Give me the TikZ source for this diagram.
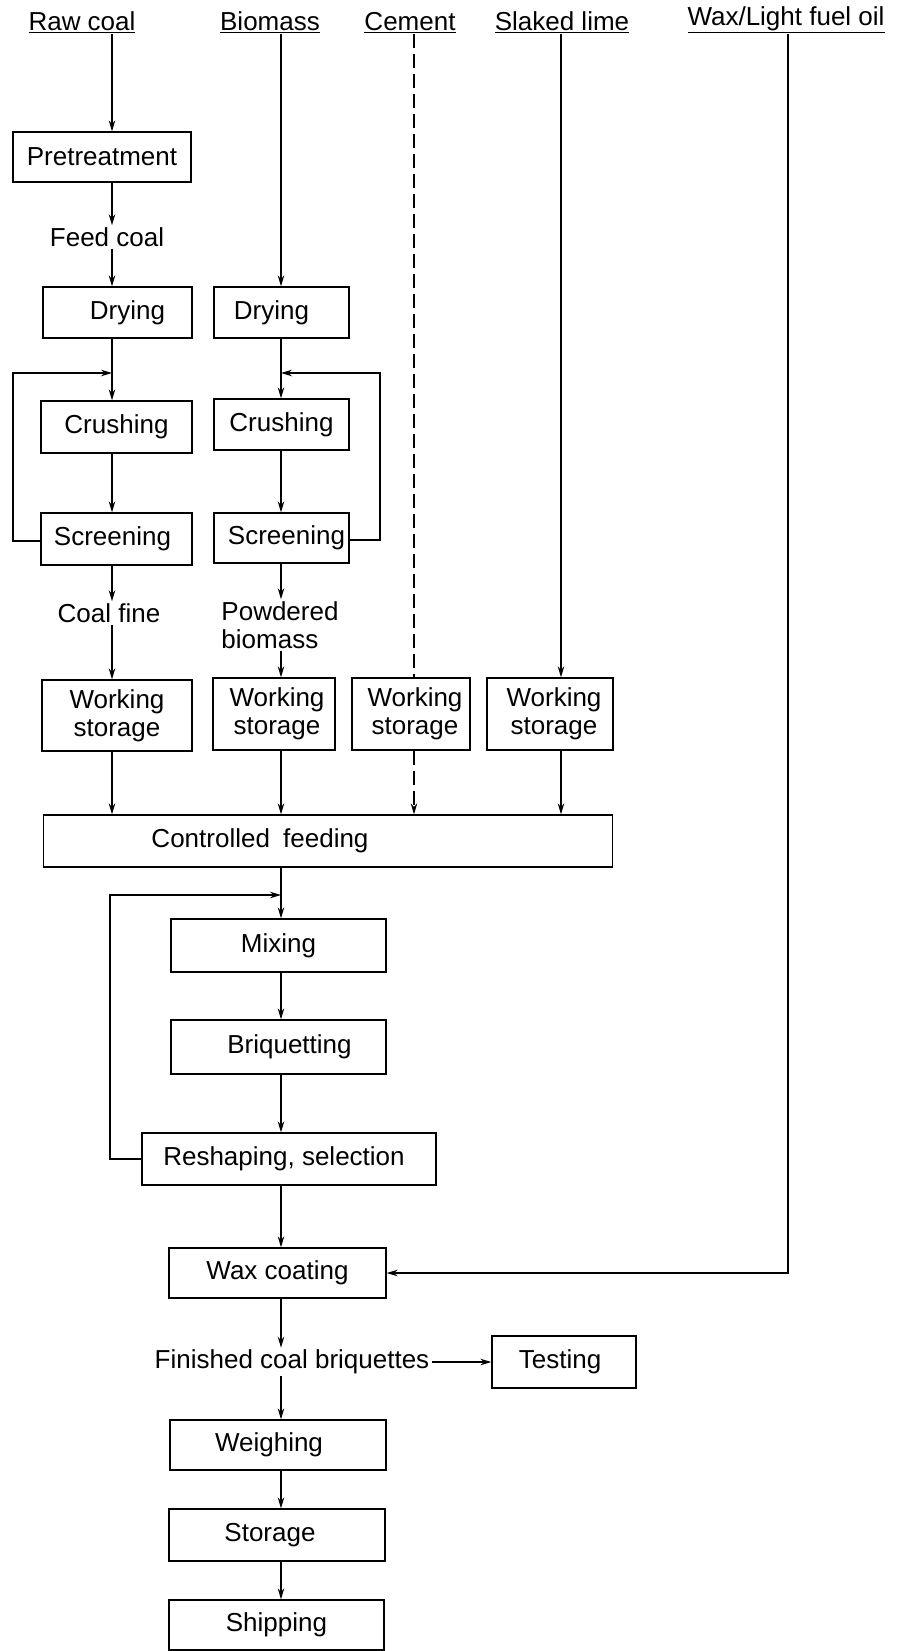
\documentclass[tikz,border=0pt]{standalone}
\usepackage{fontspec}
\setmainfont{Liberation Sans}
\usetikzlibrary{arrows.meta,calc}
\begin{document}
\begin{tikzpicture}[x=1pt,y=-1pt,
  every node/.style={font=\fontsize{26}{28}\selectfont},
  box/.style={draw,line width=1.3pt,inner sep=0pt,align=center},
  lbl/.style={inner sep=2pt,align=center},
  hdr/.style={inner sep=1pt,anchor=south},
  ln/.style={line width=1.2pt},
  arr/.style={ln,-{Stealth[length=11pt,width=6.5pt]}},
  darr/.style={arr,dash pattern=on 14pt off 6pt},
  dln/.style={ln,dash pattern=on 14pt off 6pt}]
\useasboundingbox (0,0) rectangle (904,1651);
% column coordinates
\coordinate (xA) at (112,0);
\coordinate (xB) at (281,0);
\coordinate (xC) at (414,0);
\coordinate (xD) at (561,0);
\coordinate (xE) at (788,0);
\coordinate (lpA) at (13,373);
\coordinate (lpB) at (380,373);
\coordinate (lpC) at (110,895);
\coordinate (oilc) at (788,1273);
% headers
\node[hdr] (raw) at (82,34) {\underline{Raw coal}};
\node[hdr] (bio) at (270,34) {\underline{Biomass}};
\node[hdr] (cem) at (410,34) {\underline{Cement}};
\node[hdr] (lime) at (562,34) {\underline{Slaked lime}};
\node[hdr] (oil) at (786,34) {\underline{Wax/Light fuel oil}};
% boxes
\node[box,minimum width=178pt,minimum height=50pt] (pre) at (102,157) {Pretreatment};
\node[lbl] (feed) at (107,237) {Feed coal};
\node[box,minimum width=149pt,minimum height=51pt] (dry1) at (117.5,312.5) {\hspace*{20pt}Drying};
\node[box,minimum width=135pt,minimum height=51pt] (dry2) at (281.5,312.5) {Drying\hspace*{20pt}};
\node[box,minimum width=151pt,minimum height=52pt] (cr1) at (116.5,427) {Crushing};
\node[box,minimum width=135pt,minimum height=51pt] (cr2) at (281.5,424.5) {Crushing};
\node[box,minimum width=151pt,minimum height=52pt] (sc1) at (116.5,539) {Screening\hspace*{8pt}};
\node[box,minimum width=135pt,minimum height=50pt] (sc2) at (281.5,538) {\hspace*{10pt}Screening};
\node[lbl] (cfine) at (109,613) {Coal fine};
\node[lbl,align=left] (pbio) at (280,625) {Powdered\\biomass};
\node[box,minimum width=150pt,minimum height=71pt] (ws1) at (117,715.5) {Working\\storage};
\node[box,minimum width=122pt,minimum height=72pt] (ws2) at (274,714) {\hspace*{6pt}Working\\\hspace*{6pt}storage};
\node[box,minimum width=118pt,minimum height=72pt] (ws3) at (411,714) {\hspace*{8pt}Working\\\hspace*{8pt}storage};
\node[box,minimum width=126pt,minimum height=72pt] (ws4) at (550,714) {\hspace*{8pt}Working\\\hspace*{8pt}storage};
\node[box,minimum width=569pt,minimum height=52pt] (cf) at (328,841) {Controlled\hspace*{6pt} feeding\hspace*{136pt}};
\node[box,minimum width=215pt,minimum height=53pt] (mix) at (278.5,945.5) {Mixing};
\node[box,minimum width=215pt,minimum height=54pt] (briq) at (278.5,1047) {\hspace*{22pt}Briquetting};
\node[box,minimum width=294pt,minimum height=52pt] (resh) at (289,1159) {Reshaping, selection\hspace*{10pt}};
\node[box,minimum width=217pt,minimum height=50pt] (wax) at (277.5,1273) {Wax coating};
\node[lbl] (fin) at (292,1362) {Finished coal briquettes};
\node[box,minimum width=144pt,minimum height=52pt] (test) at (564,1362) {Testing\hspace*{8pt}};
\node[box,minimum width=216pt,minimum height=50pt] (weigh) at (278,1445) {Weighing\hspace*{18pt}};
\node[box,minimum width=216pt,minimum height=52pt] (stor) at (277,1535) {Storage\hspace*{14pt}};
\node[box,minimum width=215pt,minimum height=50pt] (ship) at (276.5,1625) {Shipping};
% coal column
\draw[arr] (xA |- raw.south) -- (xA |- pre.north);
\draw[arr] (xA |- pre.south) -- (xA |- feed.north);
\draw[arr] (xA |- feed.south) -- (xA |- dry1.north);
\draw[arr] (xA |- dry1.south) -- (xA |- cr1.north);
\draw[arr] (xA |- cr1.south) -- (xA |- sc1.north);
\draw[arr] (sc1.west |- 0,541) -| (lpA) -- (xA |- lpA);
\draw[arr] (xA |- sc1.south) -- (xA |- cfine.north);
\draw[arr] (xA |- cfine.south) -- (xA |- ws1.north);
\draw[arr] (xA |- ws1.south) -- (xA |- cf.north);
% biomass column
\draw[arr] (xB |- bio.south) -- (xB |- dry2.north);
\draw[arr] (xB |- dry2.south) -- (xB |- cr2.north);
\draw[arr] (xB |- cr2.south) -- (xB |- sc2.north);
\draw[arr] (sc2.east |- 0,540) -| (lpB) -- (xB |- lpB);
\draw[arr] (xB |- sc2.south) -- (xB |- pbio.north);
\draw[arr] (xB |- pbio.south) -- (xB |- ws2.north);
\draw[arr] (xB |- ws2.south) -- (xB |- cf.north);
% cement
\draw[dln] (xC |- cem.south) -- (xC |- ws3.north);
\draw[darr] (xC |- ws3.south) -- (xC |- cf.north);
% slaked lime
\draw[arr] (xD |- lime.south) -- (xD |- ws4.north);
\draw[arr] (xD |- ws4.south) -- (xD |- cf.north);
% main line
\draw[arr] (xB |- cf.south) -- (xB |- mix.north);
\draw[arr] (xB |- mix.south) -- (xB |- briq.north);
\draw[arr] (xB |- briq.south) -- (xB |- resh.north);
\draw[arr] (resh.west) -| (lpC) -- (xB |- lpC);
\draw[arr] (xB |- resh.south) -- (xB |- wax.north);
\draw[arr] (xE |- oil.south) -- (oilc) -- (wax.east);
\draw[arr] (xB |- wax.south) -- (xB |- fin.north);
\draw[arr] (fin.east) -- (fin.east -| test.west);
\draw[arr] (xB |- fin.south) -- (xB |- weigh.north);
\draw[arr] (xB |- weigh.south) -- (xB |- stor.north);
\draw[arr] (xB |- stor.south) -- (xB |- ship.north);
\end{tikzpicture}
\end{document}
